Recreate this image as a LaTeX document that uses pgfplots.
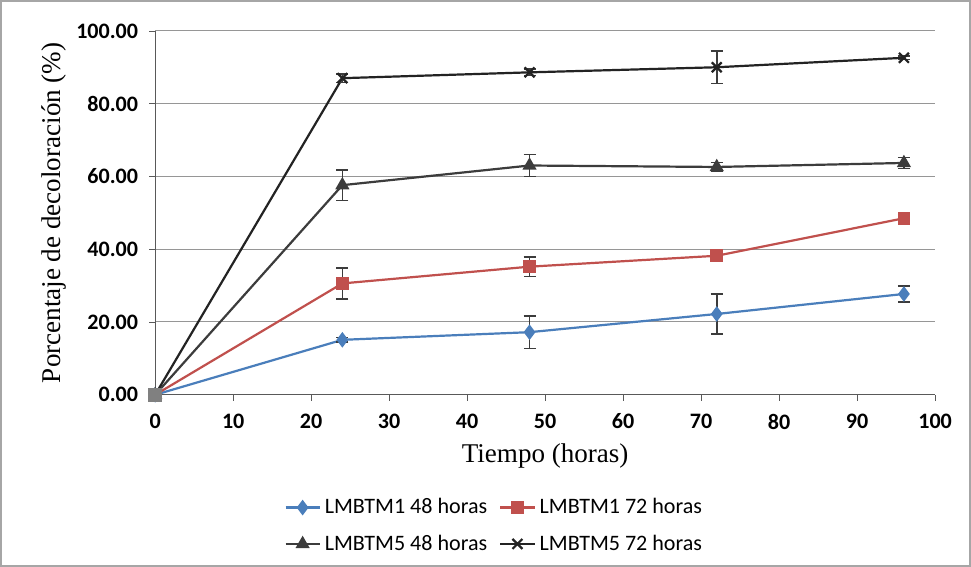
\documentclass[border=0pt]{standalone}
\usepackage{fontspec}
\setmainfont{Liberation Serif}
\newfontfamily\carlito{Carlito}
\usepackage{pgfplots}
\pgfplotsset{compat=1.18}
\definecolor{sblue}{RGB}{74,126,187}
\definecolor{sred}{RGB}{192,80,77}
\definecolor{sdark}{RGB}{60,60,60}
\definecolor{sblack}{RGB}{35,35,35}
\definecolor{gridc}{RGB}{150,150,150}
\begin{document}
\begin{tikzpicture}
\draw[gray!70, line width=0.8pt] (1pt,1pt) rectangle (484.5pt,283pt);
\begin{axis}[
  at={(78pt,86.5pt)}, anchor=south west,
  scale only axis, width=389pt, height=181.5pt,
  xmin=0, xmax=100, ymin=0, ymax=100,
  xtick={0,10,...,100}, ytick={0,20,...,100},
  axis x line*=bottom, axis y line*=left,
  axis line style={gray!70!black},
  tick style={gray!70!black}, tick align=outside,
  major tick length=3pt,
  ymajorgrids, grid style={gridc, line width=0.5pt},
  tick label style={font=\carlito\bfseries\fontsize{11}{13}\selectfont},
  yticklabel style={xshift=-2pt, /pgf/number format/.cd, fixed, fixed zerofill, precision=2, assume math mode=true},
  xticklabel style={yshift=-3pt, /pgf/number format/assume math mode=true},
  xlabel={Tiempo (horas)}, ylabel={Porcentaje de decoloración (\%)},
  label style={font=\fontsize{13.5}{16}\selectfont},
  xlabel style={at={(axis description cs:0.5,-0.168)}, anchor=center},
  ylabel style={at={(axis description cs:-0.13,0.5)}, anchor=center},
  legend columns=2,
  legend style={at={(axis description cs:0.436,-0.36)}, anchor=center, draw=none,
    font=\carlito\fontsize{11}{13}\selectfont, row sep=5pt,
    /tikz/every even column/.append style={column sep=4pt}},
  legend cell align=left,
  legend image post style={sharp plot},
  every axis plot/.append style={line width=1.1pt},
  error bars/error bar style={sdark, line width=0.8pt},
  error bars/error mark options={sdark, rotate=90, mark size=3pt, line width=0.8pt},
]
\addplot[color=sblue, mark=diamond*, mark size=3pt,
  error bars/.cd, y dir=both, y explicit] coordinates {
  (0,0) +- (0,0)
  (24,15.1) +- (0,0.6)
  (48,17.2) +- (0,4.5)
  (72,22.2) +- (0,5.5)
  (96,27.7) +- (0,2.2)
};
\addlegendentry{LMBTM1 48 horas}
\addplot[color=sred, mark=square*, mark size=2.6pt,
  error bars/.cd, y dir=both, y explicit] coordinates {
  (0,0) +- (0,0)
  (24,30.6) +- (0,4.2)
  (48,35.2) +- (0,2.7)
  (72,38.2) +- (0,1.0)
  (96,48.5) +- (0,1.0)
};
\addlegendentry{LMBTM1 72 horas}
\addplot[color=sdark, mark=triangle*, mark size=3pt,
  error bars/.cd, y dir=both, y explicit] coordinates {
  (0,0) +- (0,0)
  (24,57.6) +- (0,4.2)
  (48,63.0) +- (0,3.0)
  (72,62.6) +- (0,1.2)
  (96,63.7) +- (0,1.5)
};
\addlegendentry{LMBTM5 48 horas}
\addplot[color=sblack, mark=x, mark size=3.5pt,
  error bars/.cd, y dir=both, y explicit] coordinates {
  (0,0) +- (0,0)
  (24,87.0) +- (0,1.2)
  (48,88.6) +- (0,0.9)
  (72,90.0) +- (0,4.5)
  (96,92.6) +- (0,0.5)
};
\addlegendentry{LMBTM5 72 horas}
\addplot[only marks, mark=square*, mark size=3pt, color=gray, forget plot] coordinates {(0,0)};
\end{axis}
\end{tikzpicture}
\end{document}
